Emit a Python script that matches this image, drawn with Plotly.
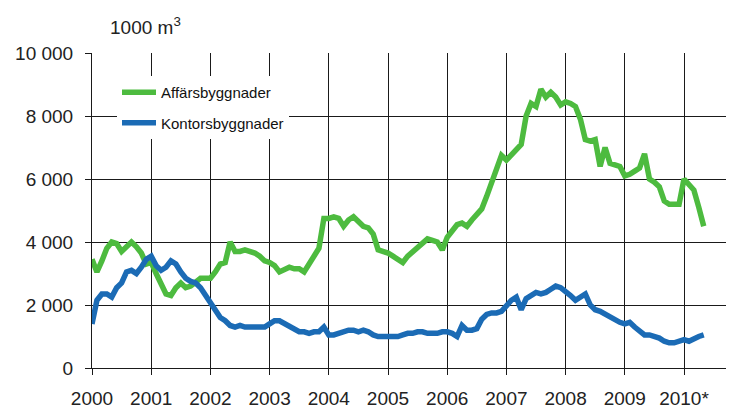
import plotly.graph_objects as go

years = list(range(2000, 2011))
x_tick_labels = ["2000", "2001", "2002", "2003", "2004", "2005", "2006", "2007", "2008", "2009", "2010*"]
y_tick_vals = [0, 2000, 4000, 6000, 8000, 10000]
y_tick_labels = ["0", "2 000", "4 000", "6 000", "8 000", "10 000"]

# Monthly values, Jan 2000 - May 2010 (1000 m3)
affars = [
    # 2000
    3450, 3050, 3400, 3800, 4000, 3950, 3700, 3850, 4000, 3850, 3650, 3300,
    # 2001
    3350, 3000, 2650, 2350, 2300, 2550, 2700, 2550, 2600, 2750, 2850, 2850,
    # 2002
    2850, 3050, 3300, 3350, 4000, 3700, 3700, 3750, 3700, 3650, 3550, 3400,
    # 2003
    3350, 3250, 3050, 3150, 3200, 3150, 3150, 3050, 3300, 3550, 3800, 4750,
    # 2004
    4750, 4800, 4750, 4500, 4700, 4800, 4650, 4500, 4450, 4250, 3750, 3700,
    # 2005
    3650, 3550, 3450, 3350, 3550, 3700, 3850, 4000, 4100, 4050, 4000, 3750,
    # 2006
    4150, 4350, 4550, 4600, 4500, 4700, 4850, 5050, 5450, 5850, 6300, 6750,
    # 2007
    6600, 6750, 6950, 7100, 8000, 8400, 8300, 8850, 8600, 8750, 8600, 8350,
    # 2008
    8450, 8400, 8300, 7900, 7250, 7200, 7250, 6400, 7000, 6500, 6450, 6400,
    # 2009
    6100, 6150, 6250, 6350, 6800, 6000, 5900, 5750, 5300, 5200, 5200, 5200,
    # 2010
    6000, 5850, 5650, 5100, 4500,
]

kontors = [
    # 2000
    1400, 2150, 2350, 2350, 2250, 2550, 2700, 3050, 3100, 3000, 3200, 3450,
    # 2001
    3550, 3250, 3100, 3200, 3400, 3300, 3050, 2850, 2750, 2700, 2550, 2300,
    # 2002
    2050, 1850, 1600, 1500, 1350, 1300, 1350, 1300, 1300, 1300, 1300, 1300,
    # 2003
    1400, 1500, 1500, 1400, 1350, 1200, 1150, 1150, 1100, 1150, 1150, 1300,
    # 2004
    1050, 1050, 1100, 1150, 1200, 1200, 1150, 1200, 1150, 1050, 1000, 1000,
    # 2005
    1000, 1000, 1000, 1050, 1100, 1100, 1150, 1150, 1100, 1100, 1100, 1150,
    # 2006
    1150, 1100, 1000, 1350, 1200, 1200, 1250, 1550, 1700, 1750, 1750, 1800,
    # 2007
    2000, 2150, 2250, 1850, 2200, 2300, 2400, 2350, 2400, 2500, 2600, 2550,
    # 2008
    2450, 2300, 2150, 2250, 2350, 2000, 1850, 1800, 1700, 1600, 1500, 1450,
    # 2009
    1400, 1450, 1300, 1150, 1050, 1050, 1000, 950, 850, 800, 800, 850,
    # 2010
    900, 850, 950, 1000, 1050,
]

t = [2000 + i / 12 for i in range(len(affars))]

GREEN = "#4DBB3F"
BLUE = "#1B6BB5"
FONT = "Liberation Sans"

fig = go.Figure()
fig.add_trace(go.Scatter(x=t, y=affars, mode="lines", name="Affärsbyggnader",
                         line=dict(color=GREEN, width=5.5), legendgroup="a"))
fig.add_trace(go.Scatter(x=t, y=kontors, mode="lines", name="Kontorsbyggnader",
                         line=dict(color=BLUE, width=5.5), legendgroup="b"))

# page body has an 8 px margin; figure is sized to fit the 734x410 window
W, H = 726, 402
L, T, R = 84, 45, 0
PH = 315
B = H - T - PH
PW = W - L - R

fig.update_layout(
    width=W, height=H,
    margin=dict(l=L, r=R, t=T, b=B),
    paper_bgcolor="white", plot_bgcolor="white",
    font=dict(family=FONT, size=17, color="#222222"),
    showlegend=True,
    legend=dict(
        x=25 / PW, y=(PH - 23) / PH,
        xanchor="left", yanchor="top",
        bgcolor="white", borderwidth=0,
        font=dict(family=FONT, size=15, color="#111111"),
        traceorder="grouped", tracegroupgap=8,
        itemwidth=34,
    ),
    xaxis=dict(
        range=[2000, 2000 + PW / 59.2],
        tickmode="array", tickvals=years, ticktext=x_tick_labels,
        showgrid=True, gridcolor="#1a1a1a", gridwidth=1,
        ticks="outside", ticklen=6, tickcolor="#1a1a1a",
        showline=True, linecolor="#1a1a1a", linewidth=1,
        zeroline=False,
        tickfont=dict(family=FONT, size=19, color="#222222"),
        ticklabelstandoff=7,
    ),
    yaxis=dict(
        range=[0, 10000],
        tickmode="array", tickvals=y_tick_vals, ticktext=y_tick_labels,
        showgrid=True, gridcolor="#1a1a1a", gridwidth=1,
        ticks="outside", ticklen=6, tickcolor="#1a1a1a",
        showline=True, linecolor="#1a1a1a", linewidth=1,
        zeroline=False,
        tickfont=dict(family=FONT, size=19, color="#222222"),
        ticklabelstandoff=8,
    ),
    annotations=[
        dict(text="1000 m<sup>3</sup>", x=16 / PW, y=1 + 27 / PH,
             xref="paper", yref="paper",
             showarrow=False, xanchor="left", yanchor="middle",
             font=dict(family=FONT, size=19, color="#222222")),
    ],
)

fig.write_html("out.html")
